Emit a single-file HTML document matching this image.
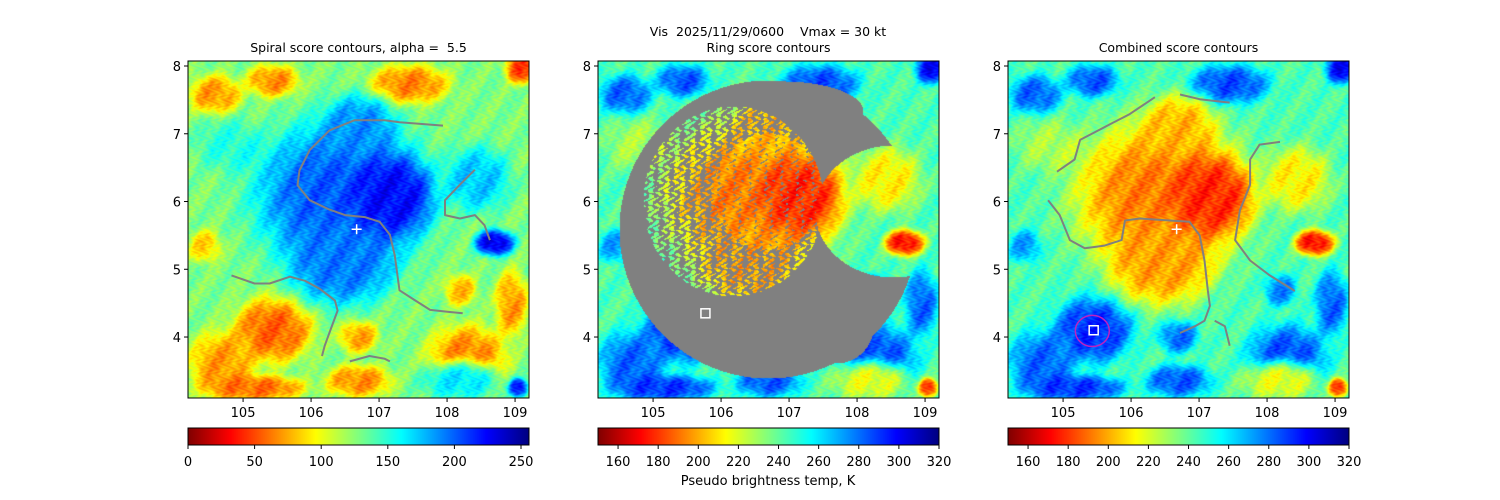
<!DOCTYPE html>
<html><head><meta charset="utf-8">
<style>
html,body{margin:0;padding:0;background:#fff;}
#wrap{position:relative;width:1500px;height:500px;overflow:hidden;font-family:"DejaVu Sans","Liberation Sans",sans-serif;}
canvas{position:absolute;}
svg{position:absolute;left:0;top:0;}
text{font-family:"DejaVu Sans","Liberation Sans",sans-serif;fill:#000;white-space:pre;}
</style></head>
<body>
<div id="wrap">
<canvas id="c1" width="341" height="337" style="left:188px;top:61px"></canvas>
<canvas id="c2" width="341" height="337" style="left:598px;top:61px"></canvas>
<canvas id="c3" width="341" height="337" style="left:1008px;top:61px"></canvas>
<canvas id="b1" width="341" height="17" style="left:188px;top:428px"></canvas>
<canvas id="b2" width="341" height="17" style="left:598px;top:428px"></canvas>
<canvas id="b3" width="341" height="17" style="left:1008px;top:428px"></canvas>
<svg id="ov" width="1500" height="500" xml:space="preserve"></svg>
</div>
<script>
// ---- data ----
const xTicks=[105,106,107,108,109];
const yTicks=[4,5,6,7,8];
const cb1Ticks=[0,50,100,150,200,250];
const cb2Ticks=[160,180,200,220,240,260,280,300,320];
const bgTemp=243;
// blobs: lon, lat, radius lon, radius lat, temperature (K)
const blobLon=[104.59,105.44,107.45,109.10,105.44,104.69,105.19,106.70,106.70,108.30,108.95,108.20,104.44,104.79,108.20,109.05,108.45,106.45,106.45,106.70,107.20,108.70];
const blobLat=[7.58,7.78,7.73,7.97,4.10,3.60,3.25,4.00,3.35,3.70,4.49,4.69,5.34,6.83,3.35,3.25,6.33,6.08,5.09,7.08,6.08,5.39];
const blobRx=[0.40,0.40,0.60,0.25,0.60,0.50,0.75,0.30,0.50,0.60,0.25,0.25,0.25,0.50,0.60,0.15,0.50,1.30,0.80,0.55,0.60,0.30];
const blobRy=[0.30,0.25,0.30,0.25,0.50,0.50,0.20,0.25,0.25,0.50,0.50,0.25,0.25,0.40,0.30,0.15,0.50,1.15,0.65,0.50,0.60,0.20];
const blobT=[282,284,286,298,292,282,290,280,284,286,282,276,272,228,218,182,212,192,198,202,178,172];
// contours (lon/lat)
const spiralLines=[
 {lon:[107.94,107.30,107.08,106.64,106.27,105.98,105.83,105.80,105.98,106.27,106.50,106.79,107.01,107.16,107.23,107.28,107.30,107.53,107.75,108.04,108.23],
  lat:[7.12,7.17,7.20,7.20,7.05,6.76,6.46,6.24,6.02,5.88,5.80,5.77,5.70,5.51,5.21,4.84,4.69,4.54,4.40,4.37,4.35]},
 {lon:[104.83,105.17,105.39,105.69,105.91,106.13,106.35,106.39,106.28,106.20,106.16],
  lat:[4.91,4.79,4.79,4.89,4.83,4.71,4.54,4.39,4.09,3.87,3.72]},
 {lon:[106.57,106.86,107.08,107.16],lat:[3.64,3.72,3.68,3.64]},
 {lon:[108.41,108.19,107.97,107.97,108.19,108.41,108.55,108.63],lat:[6.47,6.25,6.02,5.80,5.75,5.80,5.65,5.43]}
];
const combinedLines=[
 {lon:[104.91,105.17,105.25,105.69,105.98,106.35],lat:[6.44,6.62,6.91,7.14,7.29,7.54]},
 {lon:[106.72,107.01,107.45],lat:[7.58,7.51,7.46]},
 {lon:[104.78,104.95,105.10,105.32,105.61,105.86,105.91,106.13,106.57,106.86,107.01,107.08,107.13,107.16,107.08,106.94,106.72],
  lat:[6.02,5.80,5.43,5.31,5.35,5.43,5.72,5.75,5.72,5.70,5.50,5.13,4.68,4.46,4.24,4.16,4.06]},
 {lon:[108.19,107.89,107.75,107.75,107.60,107.53,107.75,108.04,108.41],lat:[6.88,6.84,6.62,6.25,5.87,5.43,5.13,4.91,4.68]},
 {lon:[107.23,107.38,107.45],lat:[4.24,4.16,3.87]}
];
const centerLon=106.67, centerLat=5.59;
const ringBoxLon=105.77, ringBoxLat=4.35;
const combBoxLon=105.45, combBoxLat=4.10;
const magLon=105.43, magLat=4.09, magRx=0.25, magRy=0.23;

// ---- axes ----
const PW=341, PH=337, LON0=104.19, LON1=109.205, LAT1=8.074, LAT0=3.10;
const xS=lon=>(lon-LON0)/(LON1-LON0)*PW;
const yS=lat=>(LAT1-lat)/(LAT1-LAT0)*PH;
const xInv=px=>LON0+px/PW*(LON1-LON0);
const yInv=py=>LAT1-py/PH*(LAT1-LAT0);
const panelX=[188,598,1008], panelY=61;

function clip(v){return Math.max(0,Math.min(1,v));}
function jet(x){return [clip(1.5-Math.abs(4*x-3)),clip(1.5-Math.abs(4*x-2)),clip(1.5-Math.abs(4*x-1))].map(v=>Math.round(v*255));}
function field(lon,lat){
  let T=bgTemp;
  for(let i=0;i<blobT.length;i++){
    const dx=(lon-blobLon[i])/blobRx[i], dy=(lat-blobLat[i])/blobRy[i];
    const d2=dx*dx+dy*dy;
    const w=Math.exp(-d2*d2);
    T=T*(1-w)+blobT[i]*w;
  }
  T+=7*Math.sin(lon*41+Math.sin(lat*37)*3)*Math.cos(lat*53+lon*11);
  T+=5*Math.sin(lon*13-lat*9);
  return T;
}
function grayMask(px,py){
  const inC=((px-170)**2+(py-168)**2)<149*149;
  const inTop=((px-185)/80)**2+((py-50)/30)**2<1;
  const inBot=((px-238)/38)**2+((py-262)/40)**2<1;
  const inBite=((px-295)/78)**2+((py-150)/66)**2<1;
  if(!((inC||inTop||inBot)&&!(inBite&&!inTop))) return 0;
  const inner=((px-135)/90)**2+((py-140)/95)**2<1;
  const core=((px-170)/55)**2+((py-130)/58)**2<1;
  if(inner){
    const p=Math.sin(px*0.6+Math.sin(py*0.5)*2)*Math.cos(py*0.55+px*0.2);
    if(p>(core?-0.7:0.05)) return 0;
  }
  return 1;
}
function drawPanel(id,mode){
  const c=document.getElementById(id),ctx=c.getContext('2d');
  const img=ctx.createImageData(PW,PH);
  for(let py=0;py<PH;py++)for(let px=0;px<PW;px++){
    const T=field(xInv(px+0.5),yInv(py+0.5));
    let col;
    if(mode===1){const v=205+(190-T)*1.45;col=jet(1-clip(v/256));}
    else col=jet(1-clip((T-150)/170));
    if(mode===2&&grayMask(px,py))col=[128,128,128];
    const k=(py*PW+px)*4;img.data[k]=col[0];img.data[k+1]=col[1];img.data[k+2]=col[2];img.data[k+3]=255;
  }
  ctx.putImageData(img,0,0);
}
drawPanel('c1',1);drawPanel('c2',2);drawPanel('c3',3);
['b1','b2','b3'].forEach(id=>{
  const ctx=document.getElementById(id).getContext('2d');
  for(let x=0;x<341;x++){const col=jet(1-(x+0.5)/341);ctx.fillStyle=`rgb(${col})`;ctx.fillRect(x,0,1,17);}
});

// ---- svg overlay ----
const NS='http://www.w3.org/2000/svg', ov=document.getElementById('ov');
function mk(tag,attrs,parent){const e=document.createElementNS(NS,tag);for(const k in attrs)e.setAttribute(k,attrs[k]);(parent||ov).appendChild(e);return e;}
function txt(x,y,s,size,anchor,name){const t=mk('text',{x:x,y:y,'font-size':size,'text-anchor':anchor||'middle'});t.textContent=s;


return t;}

const titles=['Spiral score contours, alpha =  5.5','Ring score contours','Combined score contours'];
panelX.forEach((X,pi)=>{
  const g=mk('g',{transform:`translate(${X},${panelY})`});
  
  
  const lines=pi===0?spiralLines:(pi===2?combinedLines:[]);
  lines.forEach((L,li)=>{
    const d=L.lon.map((lo,i)=>(i?'L':'M')+xS(lo).toFixed(1)+','+yS(L.lat[i]).toFixed(1)).join('');
    const p=mk('path',{d:d,fill:'none',stroke:'#808080','stroke-width':2,'stroke-linejoin':'round'},g);
    
    
  });
  if(pi!==1){
    const cx=xS(centerLon),cy=yS(centerLat);
    const m=mk('path',{d:`M${cx-5},${cy}H${cx+5}M${cx},${cy-5}V${cy+5}`,stroke:'#fff','stroke-width':1.5},g);
    
    
  }
  if(pi===1){
    const r=mk('rect',{x:xS(ringBoxLon)-4.5,y:yS(ringBoxLat)-4.5,width:9,height:9,fill:'none',stroke:'#fff','stroke-width':1.5},g);
    
    
  }
  if(pi===2){
    const e=mk('ellipse',{cx:xS(magLon),cy:yS(magLat),rx:magRx*68,ry:magRy*67.75,fill:'none',stroke:'#c020c0','stroke-width':1.5},g);
    
    
    const r=mk('rect',{x:xS(combBoxLon)-4.5,y:yS(combBoxLat)-4.5,width:9,height:9,fill:'none',stroke:'#fff','stroke-width':1.5},g);
    
    
  }
  const fr=mk('rect',{x:0,y:0,width:PW,height:PH,fill:'none',stroke:'#000','stroke-width':1},g);
  
  
  xTicks.forEach(v=>{const x=xS(v);mk('line',{x1:x,x2:x,y1:PH,y2:PH+4,stroke:'#000'},g);
    txt(X+x,panelY+PH+19,String(v),13,'middle','x-tick-label');});
  yTicks.forEach(v=>{const y=yS(v);mk('line',{x1:0,x2:-4,y1:y,y2:y,stroke:'#000'},g);
    txt(X-7,panelY+y+5,String(v),13,'end','y-tick-label');});
  txt(X+PW/2,52,titles[pi],12.5,'middle','panel-title');
  const cg=mk('g',{transform:`translate(${X},428)`});
  
  
  mk('rect',{x:0,y:0,width:341,height:17,fill:'none',stroke:'#000'},cg);
  const ticks=pi===0?cb1Ticks:cb2Ticks;
  ticks.forEach(v=>{const x=pi===0?v/256*341:(v-150)/170*341;mk('line',{x1:x,x2:x,y1:17,y2:21,stroke:'#000'},cg);
    txt(X+x,466,String(v),13,'middle','colorbar-tick-label');});
});
txt(768,36,'Vis  2025/11/29/0600    Vmax = 30 kt',12.5,'middle','figure-suptitle');
txt(768,485,'Pseudo brightness temp, K',13,'middle','colorbar-label');
</script>
</body></html>
